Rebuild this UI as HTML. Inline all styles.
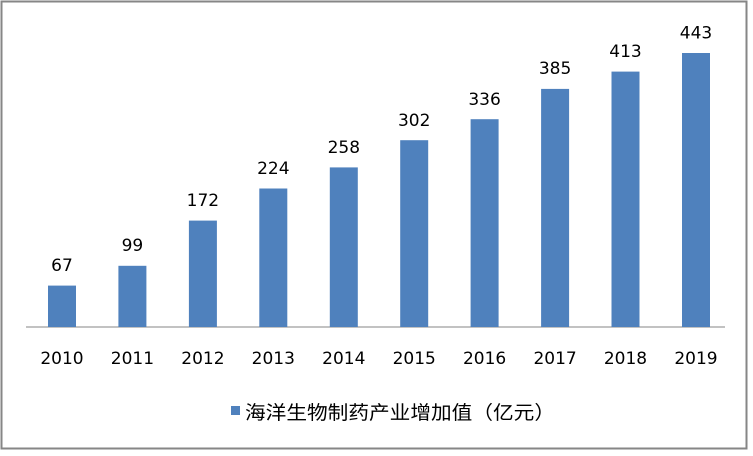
<!DOCTYPE html><html><head><meta charset="utf-8"><style>body{margin:0;background:#fff}</style></head><body>
<svg width="753" height="451" xmlns="http://www.w3.org/2000/svg" font-family="'DejaVu Sans','Noto Sans CJK SC',sans-serif">
<rect x="1.5" y="1.5" width="745" height="447" fill="#fff" stroke="#868686" stroke-width="2"/>
<line x1="26" y1="327" x2="725" y2="327" stroke="#868686" stroke-width="1"/>
<g fill="#4f81bd">
<rect x="48" y="285.6" width="28" height="41.4"/>
<rect x="118.4" y="265.8" width="28" height="61.2"/>
<rect x="188.9" y="220.6" width="28" height="106.4"/>
<rect x="259.3" y="188.5" width="28" height="138.5"/>
<rect x="329.8" y="167.4" width="28" height="159.6"/>
<rect x="400.2" y="140.2" width="28" height="186.8"/>
<rect x="470.6" y="119.2" width="28" height="207.8"/>
<rect x="541.1" y="88.9" width="28" height="238.1"/>
<rect x="611.5" y="71.6" width="28" height="255.4"/>
<rect x="682" y="53" width="28" height="274"/>
</g>
<g font-size="17" fill="#000" text-anchor="middle">
<text x="62" y="271">67</text>
<text x="132.4" y="251">99</text>
<text x="202.9" y="206">172</text>
<text x="273.3" y="174">224</text>
<text x="343.8" y="153">258</text>
<text x="414.2" y="126">302</text>
<text x="484.6" y="105">336</text>
<text x="555.1" y="74">385</text>
<text x="625.5" y="57">413</text>
<text x="696" y="38.5">443</text>
<text x="62" y="364">2010</text>
<text x="132.4" y="364">2011</text>
<text x="202.9" y="364">2012</text>
<text x="273.3" y="364">2013</text>
<text x="343.8" y="364">2014</text>
<text x="414.2" y="364">2015</text>
<text x="484.6" y="364">2016</text>
<text x="555.1" y="364">2017</text>
<text x="625.5" y="364">2018</text>
<text x="696" y="364">2019</text>
</g>
<rect x="231" y="406" width="9" height="9" fill="#4f81bd"/>
<text x="245" y="419" font-size="19" textLength="310" lengthAdjust="spacingAndGlyphs" fill="#000">海洋生物制药产业增加值（亿元）</text>
</svg></body></html>
